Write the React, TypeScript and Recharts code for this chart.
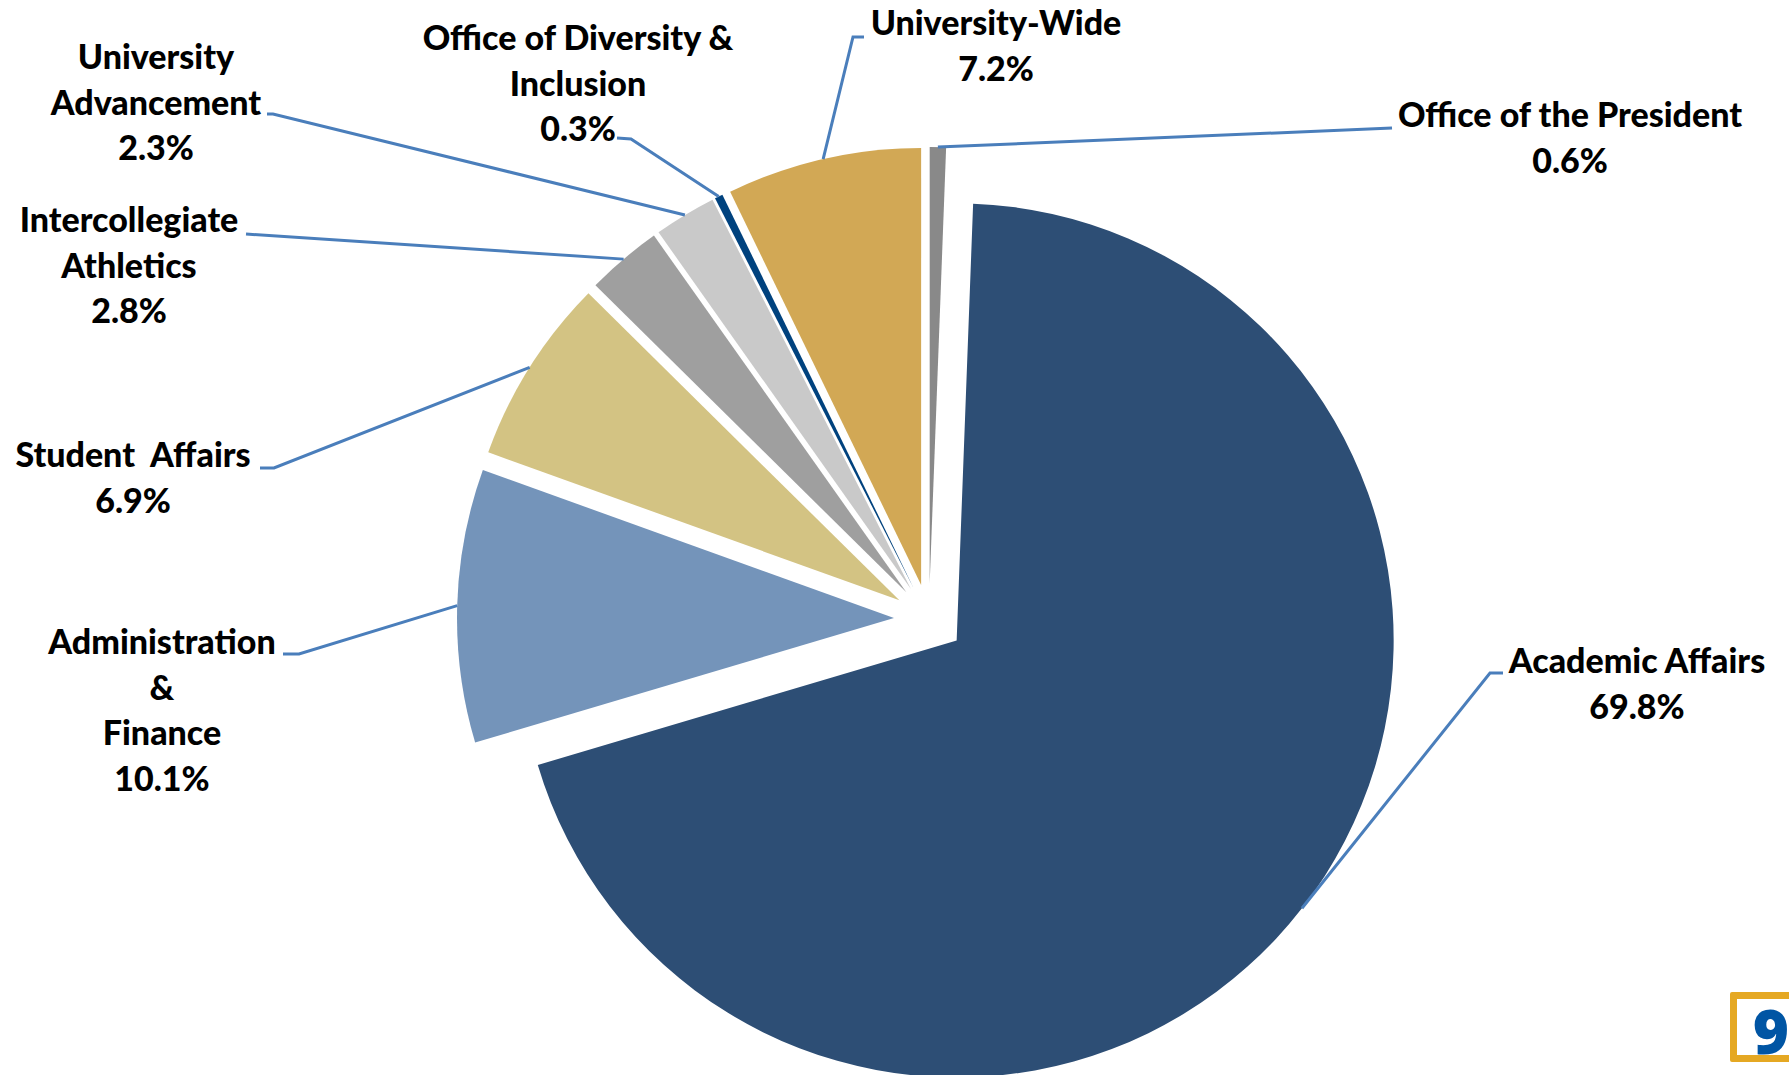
import React from 'react';
import { PieChart, Pie, Cell } from 'recharts';

// ---- data ----
const categories = [
  'Office of the President',
  'Academic Affairs',
  'Administration & Finance',
  'Student Affairs',
  'Intercollegiate Athletics',
  'University Advancement',
  'Office of Diversity & Inclusion',
  'University-Wide',
];
const shares = [0.6, 69.8, 10.1, 6.9, 2.8, 2.3, 0.3, 7.2];
const labelLines = [
  ['Office of the President'],
  ['Academic Affairs'],
  ['Administration', '&', 'Finance'],
  ['Student  Affairs'],
  ['Intercollegiate', 'Athletics'],
  ['University', 'Advancement'],
  ['Office of Diversity &', 'Inclusion'],
  ['University-Wide'],
];
const pageNumber = '9';

// ---- styles / layout ----
const COLORS = ['#898989', '#2D4E75', '#7494BA', '#D3C383', '#9F9F9F', '#C9C9C9', '#00427E', '#D2A855'];
const W = 1789;
const H = 1075;
const CX = 929;
const CY = 619;
const R = 437;
const EXPLODE = 35;
const LINE = 45.5;
const FONT = 34;
const LABELS = [
  { x: 1570, y: 115, leader: [[1392, 128]] },
  { x: 1637, y: 661, leader: [[1490, 673], [1503, 673]] },
  { x: 162, y: 642, leader: [[299, 654], [283, 654]] },
  { x: 133, y: 455, leader: [[274, 468], [260, 468]] },
  { x: 129, y: 220, leader: [[246, 234]] },
  { x: 156, y: 57, leader: [[273, 114], [267, 114]] },
  { x: 578, y: 38, leader: [[631, 139], [617, 138]] },
  { x: 996, y: 23, leader: [[853, 37], [864, 37]] },
];

const data = categories.map((name, i) => ({ name, value: shares[i] }));
const total = shares.reduce((a, b) => a + b, 0);

const offsets = (() => {
  let cum = 0;
  return shares.map((v) => {
    const mid = ((cum + v / 2) / total) * 2 * Math.PI;
    cum += v;
    return { dx: EXPLODE * Math.sin(mid), dy: -EXPLODE * Math.cos(mid) };
  });
})();

const makeLabel = (j: number) => (props: any) => {
  if (props.index !== j) return <g />;
  const { cx, cy, midAngle, outerRadius } = props;
  const a = (-midAngle * Math.PI) / 180;
  const sx = cx + outerRadius * Math.cos(a);
  const sy = cy + outerRadius * Math.sin(a);
  const L = LABELS[j];
  const pts = [[sx, sy], ...L.leader].map((p) => p.join(',')).join(' ');
  const lines = [...labelLines[j], `${shares[j].toFixed(1)}%`];
  return (
    <g>
      <polyline points={pts} fill="none" stroke="#4A7EBB" strokeWidth={3} />
      {lines.map((t, k) => (
        <text
          key={k}
          x={L.x}
          y={L.y + k * LINE + 12}
          textAnchor="middle"
          fill="#000"
          fontFamily="Lato, 'Open Sans', sans-serif"
          fontWeight={900}
          fontSize={FONT}
          style={{ whiteSpace: 'pre' }}
        >
          {t}
        </text>
      ))}
    </g>
  );
};

export default function App() {
  return (
    <div
      style={{
        position: 'absolute',
        left: 0,
        top: 0,
        width: W,
        height: H,
        overflow: 'hidden',
        background: '#fff',
      }}
    >
      <PieChart width={W} height={H} margin={{ top: 0, right: 0, bottom: 0, left: 0 }}>
        {data.map((_, j) => (
          <Pie
            key={j}
            data={data}
            dataKey="value"
            nameKey="name"
            cx={CX + offsets[j].dx}
            cy={CY + offsets[j].dy}
            outerRadius={R}
            innerRadius={0}
            startAngle={90}
            endAngle={-270}
            stroke="none"
            isAnimationActive={false}
            labelLine={false}
            label={makeLabel(j)}
          >
            {data.map((__, i) => (
              <Cell key={i} fill={i === j ? COLORS[i] : 'none'} stroke="none" />
            ))}
          </Pie>
        ))}
      </PieChart>
      <div
        style={{
          position: 'absolute',
          left: 1730,
          top: 992,
          width: 100,
          height: 56,
          border: '7px solid #E5A823',
          borderRadius: 2,
        }}
      />
      <div
        style={{
          position: 'absolute',
          left: 1740,
          top: 990,
          width: 62,
          textAlign: 'center',
          fontFamily: "'Open Sans', sans-serif",
          fontWeight: 800,
          fontSize: 62,
          lineHeight: '80px',
          color: '#0055A4',
        }}
      >
        {pageNumber}
      </div>
    </div>
  );
}
